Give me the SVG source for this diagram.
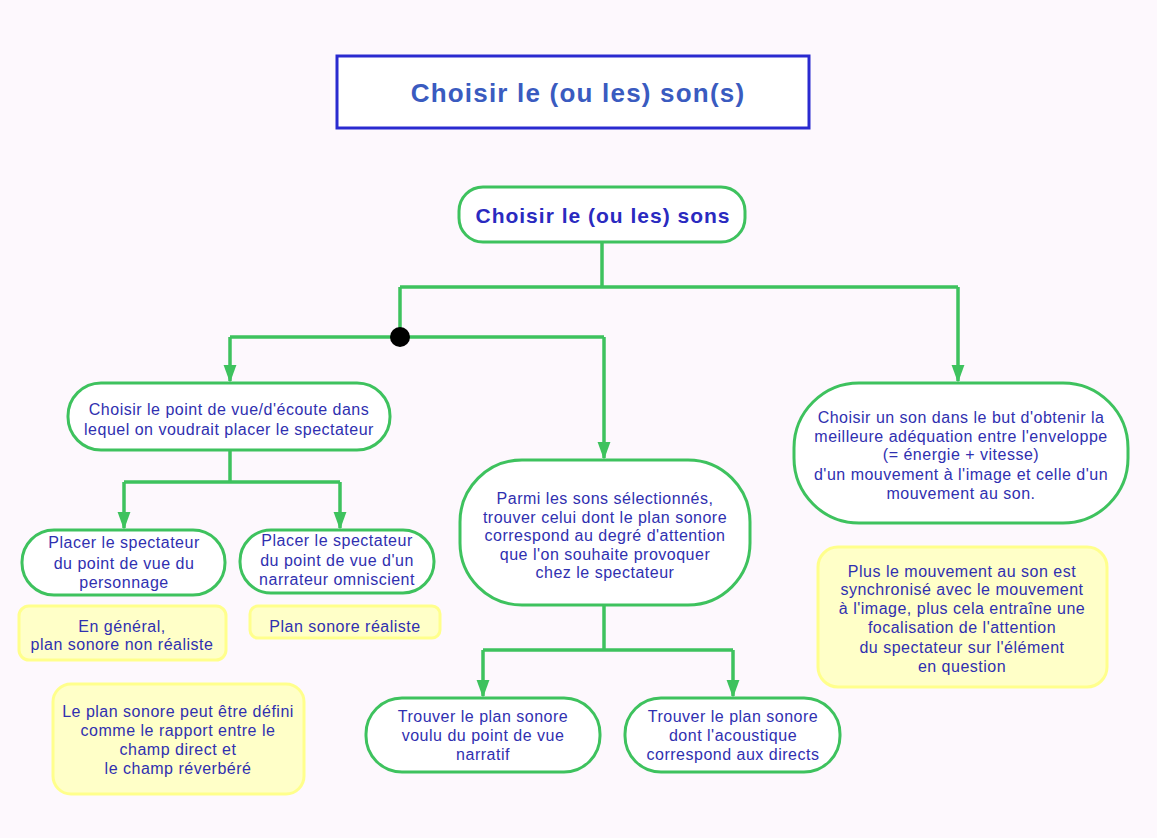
<svg xmlns="http://www.w3.org/2000/svg" width="1157" height="838" viewBox="0 0 1157 838">
<defs>
<style>
.t{font-family:"Liberation Sans",Arial,sans-serif;font-size:16px;letter-spacing:0.5px;fill:#3030b0;text-anchor:middle}
.g{fill:#ffffff;stroke:#3ec25e;stroke-width:3}
.y{fill:#ffffc8;stroke:#ffff8c;stroke-width:3}
.c{fill:none;stroke:#3ec25e;stroke-width:3.5}
</style>
<marker id="ad" markerUnits="userSpaceOnUse" markerWidth="18" markerHeight="22" refX="20" refY="9" orient="auto" viewBox="0 0 22 18">
<path d="M0,1 L22,9 L0,17 Z" fill="#3ec25e"/>
</marker>
</defs>
<rect x="0" y="0" width="1157" height="838" fill="#fdf8fd"/>
<g id="title">
<rect x="337" y="56" width="472" height="72" fill="#ffffff" stroke="#2a2ad0" stroke-width="3"/>
<text x="578" y="102" style="font-family:'Liberation Sans',Arial,sans-serif;font-size:26px;letter-spacing:1.2px;font-weight:bold;fill:#3a5bc0;text-anchor:middle">Choisir le (ou les) son(s)</text>
</g>
<g id="connectors">
<path class="c" d="M602,242 V287 M400,287 H958 M400,287 V337 M230,337 H604"/>
<path class="c" d="M230,337 V381" marker-end="url(#ad)"/>
<path class="c" d="M604,337 V458" marker-end="url(#ad)"/>
<path class="c" d="M958,287 V381" marker-end="url(#ad)"/>
<path class="c" d="M230,450 V482 M124,482 H340"/>
<path class="c" d="M124,482 V528" marker-end="url(#ad)"/>
<path class="c" d="M340,482 V528" marker-end="url(#ad)"/>
<path class="c" d="M604,605 V650 M483,650 H733"/>
<path class="c" d="M483,650 V696" marker-end="url(#ad)"/>
<path class="c" d="M733,650 V696" marker-end="url(#ad)"/>
<circle cx="400" cy="337" r="10" fill="#000000"/>
</g>
<g id="root">
<rect class="g" x="459" y="187" width="286" height="55" rx="24"/>
<text x="603" y="223" style="font-family:'Liberation Sans',Arial,sans-serif;font-size:21px;letter-spacing:1px;font-weight:bold;fill:#2a2ac0;text-anchor:middle">Choisir le (ou les) sons</text>
</g>
<g id="pointdevue">
<rect class="g" x="68" y="383" width="322" height="67" rx="33"/>
<text class="t" x="229" y="415">Choisir le point de vue/d'écoute dans</text>
<text class="t" x="229" y="435">lequel on voudrait placer le spectateur</text>
</g>
<g id="personnage">
<rect class="g" x="22" y="530" width="203" height="65" rx="32"/>
<text class="t" x="124" y="548">Placer le spectateur</text>
<text class="t" x="124" y="569">du point de vue du</text>
<text class="t" x="124" y="588">personnage</text>
</g>
<g id="narrateur">
<rect class="g" x="240" y="530" width="194" height="63" rx="31"/>
<text class="t" x="337" y="546">Placer le spectateur</text>
<text class="t" x="337" y="566">du point de vue d'un</text>
<text class="t" x="337" y="585">narrateur omniscient</text>
</g>
<g id="note-general">
<rect class="y" x="19" y="606" width="207" height="54" rx="10"/>
<text class="t" x="122" y="632">En général,</text>
<text class="t" x="122" y="650">plan sonore non réaliste</text>
</g>
<g id="note-realiste">
<rect class="y" x="250" y="606" width="190" height="32" rx="8"/>
<text class="t" x="345" y="632">Plan sonore réaliste</text>
</g>
<g id="note-plan">
<rect class="y" x="53" y="684" width="251" height="110" rx="18"/>
<text class="t" x="178" y="717">Le plan sonore peut être défini</text>
<text class="t" x="178" y="736">comme le rapport entre le</text>
<text class="t" x="178" y="755">champ direct et</text>
<text class="t" x="178" y="774">le champ réverbéré</text>
</g>
<g id="parmi">
<rect class="g" x="460" y="460" width="290" height="145" rx="62"/>
<text class="t" x="605" y="504">Parmi les sons sélectionnés,</text>
<text class="t" x="605" y="522.5">trouver celui dont le plan sonore</text>
<text class="t" x="605" y="541">correspond au degré d'attention</text>
<text class="t" x="605" y="559.5">que l'on souhaite provoquer</text>
<text class="t" x="605" y="578">chez le spectateur</text>
</g>
<g id="narratif">
<rect class="g" x="366" y="698" width="234" height="74" rx="36"/>
<text class="t" x="483" y="722">Trouver le plan sonore</text>
<text class="t" x="483" y="741">voulu du point de vue</text>
<text class="t" x="483" y="760">narratif</text>
</g>
<g id="acoustique">
<rect class="g" x="625" y="698" width="215" height="74" rx="36"/>
<text class="t" x="733" y="722">Trouver le plan sonore</text>
<text class="t" x="733" y="741">dont l'acoustique</text>
<text class="t" x="733" y="760">correspond aux directs</text>
</g>
<g id="enveloppe">
<rect class="g" x="794" y="383" width="334" height="140" rx="65"/>
<text class="t" x="961" y="423">Choisir un son dans le but d'obtenir la</text>
<text class="t" x="961" y="442">meilleure adéquation entre l'enveloppe</text>
<text class="t" x="961" y="460">(= énergie + vitesse)</text>
<text class="t" x="961" y="480">d'un mouvement à l'image et celle d'un</text>
<text class="t" x="961" y="499">mouvement au son.</text>
</g>
<g id="note-synchro">
<rect class="y" x="818" y="547" width="289" height="140" rx="20"/>
<text class="t" x="962" y="577">Plus le mouvement au son est</text>
<text class="t" x="962" y="595">synchronisé avec le mouvement</text>
<text class="t" x="962" y="614">à l'image, plus cela entraîne une</text>
<text class="t" x="962" y="633">focalisation de l'attention</text>
<text class="t" x="962" y="653">du spectateur sur l'élément</text>
<text class="t" x="962" y="672">en question</text>
</g>
</svg>
